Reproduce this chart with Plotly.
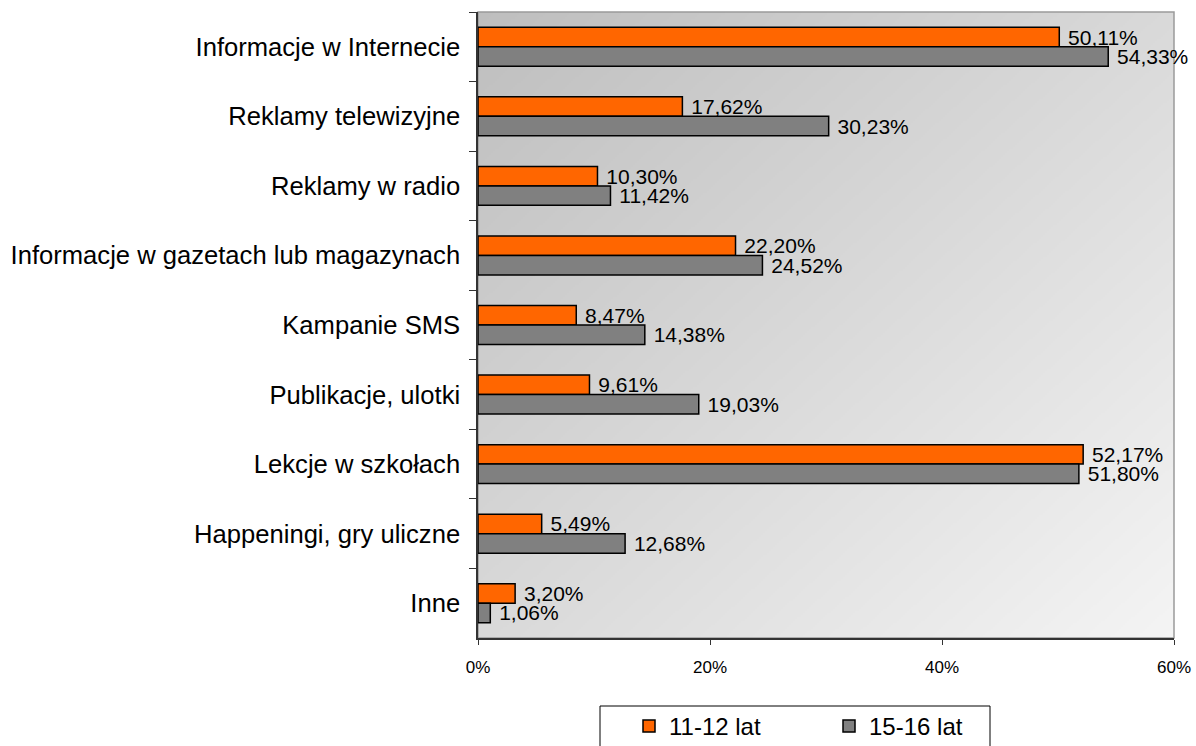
import base64
import struct
import zlib

import plotly.graph_objects as go

# ---- data -------------------------------------------------------------
categories = [
    "Informacje w Internecie",
    "Reklamy telewizyjne",
    "Reklamy w radio",
    "Informacje w gazetach lub magazynach",
    "Kampanie SMS",
    "Publikacje, ulotki",
    "Lekcje w szkołach",
    "Happeningi, gry uliczne",
    "Inne",
]
series_names = ["11-12 lat", "15-16 lat"]
values_11_12 = [50.11, 17.62, 10.30, 22.20, 8.47, 9.61, 52.17, 5.49, 3.20]
values_15_16 = [54.33, 30.23, 11.42, 24.52, 14.38, 19.03, 51.80, 12.68, 1.06]
x_tick_values = [0, 20, 40, 60]
x_tick_labels = ["0%", "20%", "40%", "60%"]

# ---- geometry ---------------------------------------------------------
W, H = 1196, 746
M_L, M_R, M_T, M_B = 478, 22, 12, 108
PW, PH = W - M_L - M_R, H - M_T - M_B

FONT = "Arial, Liberation Sans, sans-serif"


def px_to_paper_x(px):
    return (px - M_L) / PW


def px_to_paper_y(py):
    return (H - M_B - py) / PH


def gradient_png(w, h, c0, c1):
    """Diagonal grey gradient (top-left dark -> bottom-right light) as a data URI."""
    rows = bytearray()
    for j in range(h):
        rows.append(0)
        for i in range(w):
            t = (i / (w - 1) + j / (h - 1)) / 2
            v = int(round(c0 + (c1 - c0) * t))
            rows += bytes((v, v, v))

    def chunk(tag, data):
        body = tag + data
        return struct.pack(">I", len(data)) + body + struct.pack(">I", zlib.crc32(body) & 0xFFFFFFFF)

    png = (b"\x89PNG\r\n\x1a\n"
           + chunk(b"IHDR", struct.pack(">IIBBBBB", w, h, 8, 2, 0, 0, 0))
           + chunk(b"IDAT", zlib.compress(bytes(rows), 9))
           + chunk(b"IEND", b""))
    return "data:image/png;base64," + base64.b64encode(png).decode()


def pct_label(v):
    # non-breaking space keeps a small gap between bar end and label
    return "\u00a0" + f"{v:.2f}%".replace(".", ",")


colors = ["#FF6600", "#808080"]
fig = go.Figure()
for name, vals, col in zip(series_names, [values_11_12, values_15_16], colors):
    fig.add_trace(go.Bar(
        name=name,
        y=categories,
        x=vals,
        orientation="h",
        marker=dict(color=col, line=dict(color="#000000", width=1.5)),
        text=[pct_label(v) for v in vals],
        textposition="outside",
        textfont=dict(family=FONT, size=21, color="#000000"),
        constraintext="none",
        cliponaxis=False,
    ))

fig.update_layout(
    width=W,
    height=H,
    margin=dict(l=M_L, r=M_R, t=M_T, b=M_B, autoexpand=False),
    paper_bgcolor="#FFFFFF",
    plot_bgcolor="#FFFFFF",
    barmode="group",
    bargap=0.44,
    bargroupgap=0,
    font=dict(family=FONT, color="#000000"),
    images=[dict(
        source=gradient_png(PW // 2, PH // 2, 190, 244),
        xref="paper", yref="paper",
        x=0, y=1, sizex=1, sizey=1,
        xanchor="left", yanchor="top",
        sizing="stretch", layer="below",
    )],
    shapes=[
        # plot frame (top/right edges visible in grey)
        dict(type="rect", xref="paper", yref="paper", x0=0, x1=1, y0=0, y1=1,
             line=dict(color="#9a9a9a", width=1.5), layer="below"),
        # legend frame
        dict(type="rect", xref="paper", yref="paper",
             x0=px_to_paper_x(600), x1=px_to_paper_x(990),
             y0=px_to_paper_y(770), y1=px_to_paper_y(706),
             line=dict(color="#000000", width=1), fillcolor="rgba(0,0,0,0)"),
    ],
    legend=dict(
        orientation="h",
        xref="paper", yref="paper",
        x=px_to_paper_x(629), y=px_to_paper_y(704),
        xanchor="left", yanchor="top",
        font=dict(family=FONT, size=24, color="#000000"),
        bgcolor="rgba(0,0,0,0)",
        borderwidth=0,
        entrywidth=155,
        entrywidthmode="pixels",
        traceorder="normal",
    ),
    showlegend=True,
)

fig.update_xaxes(
    range=[0, 60],
    tickvals=x_tick_values,
    ticktext=x_tick_labels,
    tickfont=dict(family=FONT, size=17, color="#000000"),
    ticks="outside",
    ticklen=5,
    tickcolor="#333333",
    ticklabelstandoff=8,
    showgrid=False,
    zeroline=False,
    showline=True,
    linecolor="#333333",
    linewidth=1.5,
)
fig.update_yaxes(
    autorange="reversed",
    categoryorder="array",
    categoryarray=categories,
    tickfont=dict(family=FONT, size=25.6, color="#000000"),
    ticks="outside",
    ticklen=7,
    tickson="boundaries",
    tickcolor="#333333",
    ticklabelstandoff=11,
    showgrid=False,
    zeroline=False,
    showline=True,
    linecolor="#333333",
    linewidth=1.5,
)

fig.write_html("out.html")
